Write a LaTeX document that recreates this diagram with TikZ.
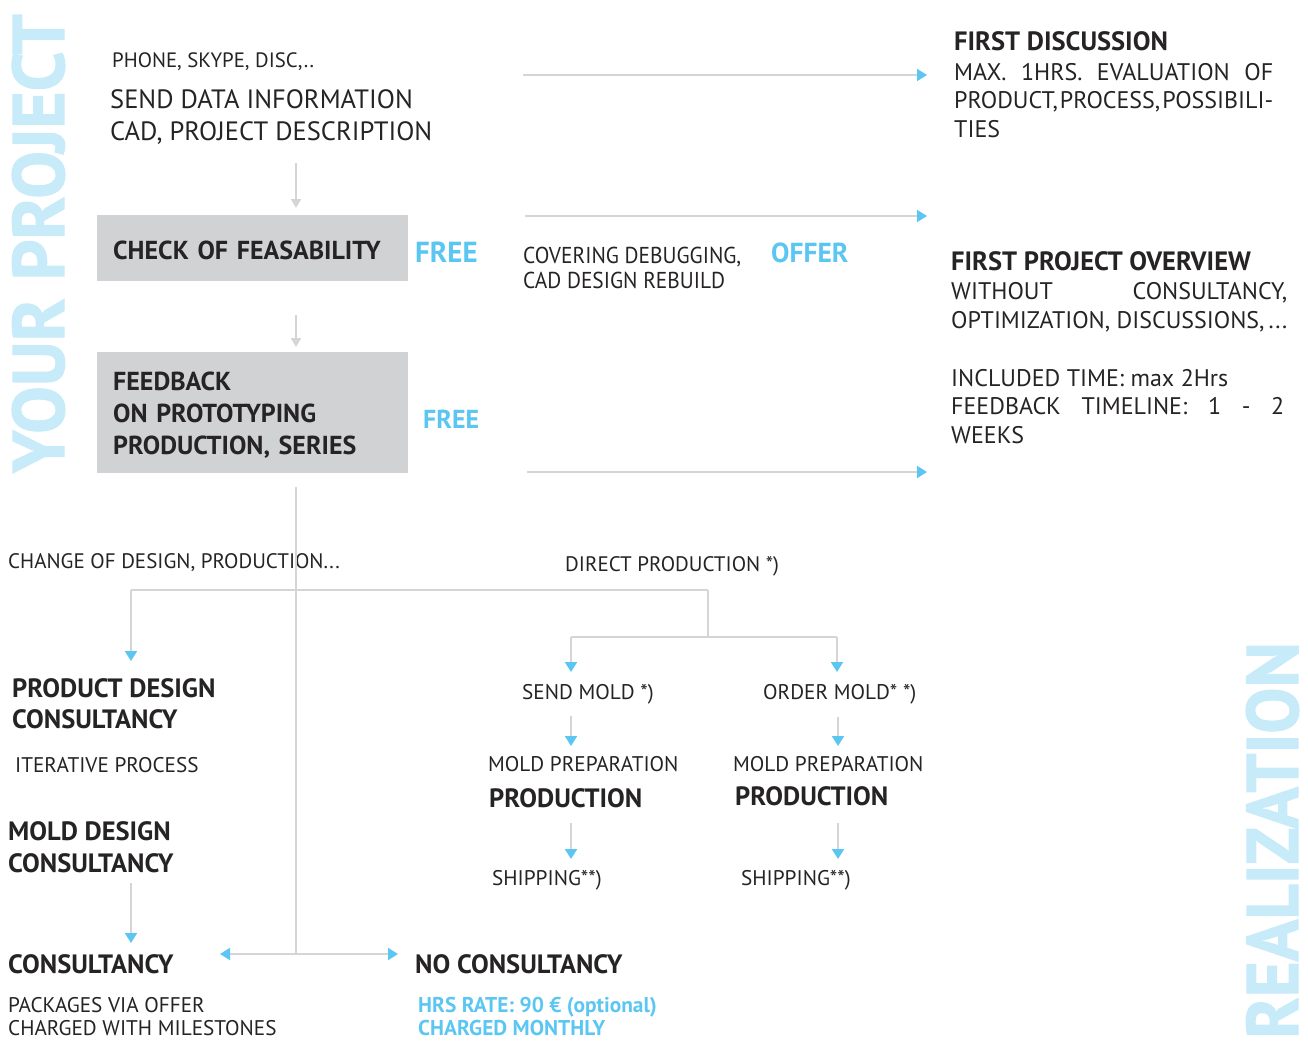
\documentclass[tikz,border=0pt]{standalone}
\usepackage{fontspec}
\usepackage{graphicx}
\setmainfont{PT Sans}
\newfontfamily\bigfont{PT Sans}[FakeBold=1.6]
\usetikzlibrary{arrows.meta}
\definecolor{lblue}{HTML}{C8EBFA}
\definecolor{ablue}{HTML}{5CC6F2}
\definecolor{lgrey}{HTML}{D4D5D7}
\definecolor{boxgrey}{HTML}{D1D2D4}
\definecolor{ink}{HTML}{262324}
\newcommand{\stack}[2]{\vtop{\baselineskip=#1pt\lineskiplimit=-100pt\lineskip=0pt #2}}
\begin{document}
\begin{tikzpicture}[x=1pt,y=-1pt,
  t/.style={anchor=base west, inner sep=0pt, text=ink},
  fPh/.style={font=\fontsize{20.8}{24}\selectfont},
  fSend/.style={font=\fontsize{26.5}{30}\selectfont},
  fR/.style={font=\fontsize{24}{28}\selectfont},
  fBR/.style={font=\fontsize{26.5}{30}\selectfont\bfseries},
  fBL/.style={font=\fontsize{26.5}{32}\selectfont\bfseries},
  fBM/.style={font=\fontsize{26.5}{30}\selectfont\bfseries},
  fS/.style={font=\fontsize{21.2}{26}\selectfont},
  fC/.style={font=\fontsize{21}{26}\selectfont},
  fBlue/.style={font=\fontsize{26}{30}\selectfont\bfseries, text=ablue},
  fBlueS/.style={font=\fontsize{21.4}{26}\selectfont\bfseries, text=ablue},
  bigv/.style={anchor=base west, inner sep=0pt, rotate=90, text=lblue, font=\fontsize{73}{80}\bigfont\bfseries},
  greybox/.style={anchor=north west, fill=boxgrey, inner xsep=16pt, inner ysep=0pt, text width=279pt, align=left, text=ink, font=\fontsize{26}{32}\selectfont\bfseries},
  conn/.style={draw=lgrey, line width=2pt},
  garrow/.style={conn, -{Triangle[length=9pt,width=10pt]}},
  barrow/.style={conn, -{Triangle[length=10pt,width=12pt,color=ablue]}},
]
\useasboundingbox (0,0) rectangle (1308,1041);

% big vertical titles
\node[bigv] (yp) at (64,473) {\scalebox{0.978}[1]{YOUR PROJECT}};
\node[bigv] (real) at (1298,1039) {\scalebox{0.945}[1]{REALIZATION}};

% top left
\node[t,fPh] (phone) at (112,67) {PHONE, SKYPE, DISC,..};
\node[t,fSend] (send) at (110,108) {\stack{32}{\hbox{SEND DATA INFORMATION}\hbox{CAD, PROJECT DESCRIPTION}}};
\node[greybox, minimum height=66pt] (box1) at (97,215) {\rule{0pt}{22.2pt}CHECK OF FEASABILITY};
\node[t,fBlue, font=\fontsize{29}{32}\selectfont\bfseries] (free1) at (415,262) {FREE};
\node[greybox, minimum height=121pt] (box2) at (97,352) {\rule{0pt}{24.4pt}FEEDBACK\\ON PROTOTYPING\\PRODUCTION, SERIES};
\node[t,fBlue] (free2) at (423,428) {FREE};

% right column
\node[t,fBR] (fd) at (954,51) {FIRST DISCUSSION};
\node[t,fR] (fdtext) at (954,80) {\stack{28.5}{\hbox to 319pt{MAX.\hfill 1HRS.\hfill EVALUATION\hfill OF}\hbox to 319pt{PRODUCT,\hfill PROCESS,\hfill POSSIBILI-}\hbox{TIES}}};
\node[t,fR, font=\fontsize{23}{27}\selectfont] (cov) at (523,263) {\scalebox{0.93}[1]{\stack{25}{\hbox{COVERING DEBUGGING,}\hbox{CAD DESIGN REBUILD}}}};
\node[t,fBlue, font=\fontsize{27.5}{30}\selectfont\bfseries] (offer) at (771,262) {OFFER};
\node[t,fBR] (fpo) at (951,270) {FIRST PROJECT OVERVIEW};
\node[t,fR] (fpotext) at (951,299) {\stack{29}{\hbox to 336pt{WITHOUT\hfill CONSULTANCY,}\hbox{OPTIMIZATION, DISCUSSIONS,\,...}}};
\node[t,fR] (inc) at (951,386) {\stack{28.5}{\hbox{INCLUDED TIME: max 2Hrs}\hbox to 333pt{FEEDBACK\hfill TIMELINE:\hfill 1\hfill -\hfill 2}\hbox{WEEKS}}};

% lower part
\node[t,fC] (chg) at (8,568) {CHANGE OF DESIGN, PRODUCTION...};
\node[t,fC] (dir) at (565,571) {DIRECT PRODUCTION *)};
\node[t,fBL] (pdc) at (12,697) {\stack{31}{\hbox{PRODUCT DESIGN}\hbox{CONSULTANCY}}};
\node[t,fS] (iter) at (15,772) {ITERATIVE PROCESS};
\node[t,fBL] (mdc) at (8,840) {\stack{32}{\hbox{MOLD DESIGN}\hbox{CONSULTANCY}}};
\node[t,fBL] (cons) at (8,973) {CONSULTANCY};
\node[t,fS] (pack) at (8,1012) {\stack{23}{\hbox{PACKAGES VIA OFFER}\hbox{CHARGED WITH MILESTONES}}};
\node[t,fBL] (nocons) at (415,973) {NO CONSULTANCY};
\node[t,fBlueS] (hrs) at (418,1012) {\stack{23}{\hbox{HRS RATE: 90 € (optional)}\hbox{CHARGED MONTHLY}}};

\node[t,fS] (sm) at (522,699) {SEND MOLD *)};
\node[t,fS] (mp1) at (488,771) {MOLD PREPARATION};
\node[t,fBM] (pr1) at (489,807) {PRODUCTION};
\node[t,fS] (sh1) at (492,885) {SHIPPING**)};
\node[t,fS] (om) at (763,699) {ORDER MOLD* *)};
\node[t,fS] (mp2) at (733,771) {MOLD PREPARATION};
\node[t,fBM] (pr2) at (735,805) {PRODUCTION};
\node[t,fS] (sh2) at (741,885) {SHIPPING**)};

% coordinates
\coordinate (c1) at (296,163);
\coordinate (c2) at (296,315);
\coordinate (trunk) at (296,487);
\coordinate (hub) at (296,954);
\coordinate (lt) at (220,954);
\coordinate (rt) at (398,954);
\coordinate (h1a) at (523,75);   \coordinate (h1b) at (927,75);
\coordinate (h2a) at (525,216);  \coordinate (h2b) at (927,216);
\coordinate (h3a) at (527,472);  \coordinate (h3b) at (927,472);
\coordinate (tl) at (131,590);
\coordinate (tlend) at (131,661);
\coordinate (tj) at (708,590);
\coordinate (tj2) at (708,637);
\coordinate (ta) at (571,637);
\coordinate (tb) at (837,637);
\coordinate (taend) at (571,672);
\coordinate (tbend) at (837,672);
\coordinate (a1s) at (571,716); \coordinate (a1e) at (571,746);
\coordinate (a2s) at (571,823); \coordinate (a2e) at (571,859);
\coordinate (b1s) at (838,717); \coordinate (b1e) at (838,746);
\coordinate (b2s) at (838,823); \coordinate (b2e) at (838,859);
\coordinate (m1s) at (131,883); \coordinate (m1e) at (131,943);

% connectors
\draw[garrow, shorten >=7pt] (c1) -- (box1.north -| c1);
\draw[garrow, shorten >=5pt] (c2) -- (box2.north -| c2);
\draw[conn] (trunk) -- (hub);
\draw[barrow] (hub) -- (lt);
\draw[barrow] (hub) -- (rt);
\draw[barrow] (h1a) -- (h1b);
\draw[barrow] (h2a) -- (h2b);
\draw[barrow] (h3a) -- (h3b);

\draw[conn] (tj) -- (tl);
\draw[barrow] (tl) -- (tlend);
\draw[conn] (tj) -- (tj2);
\draw[conn] (ta) -- (tb);
\draw[barrow] (ta) -- (taend);
\draw[barrow] (tb) -- (tbend);
\draw[barrow] (a1s) -- (a1e);
\draw[barrow] (a2s) -- (a2e);
\draw[barrow] (b1s) -- (b1e);
\draw[barrow] (b2s) -- (b2e);
\draw[barrow] (m1s) -- (m1e);
\end{tikzpicture}
\end{document}
